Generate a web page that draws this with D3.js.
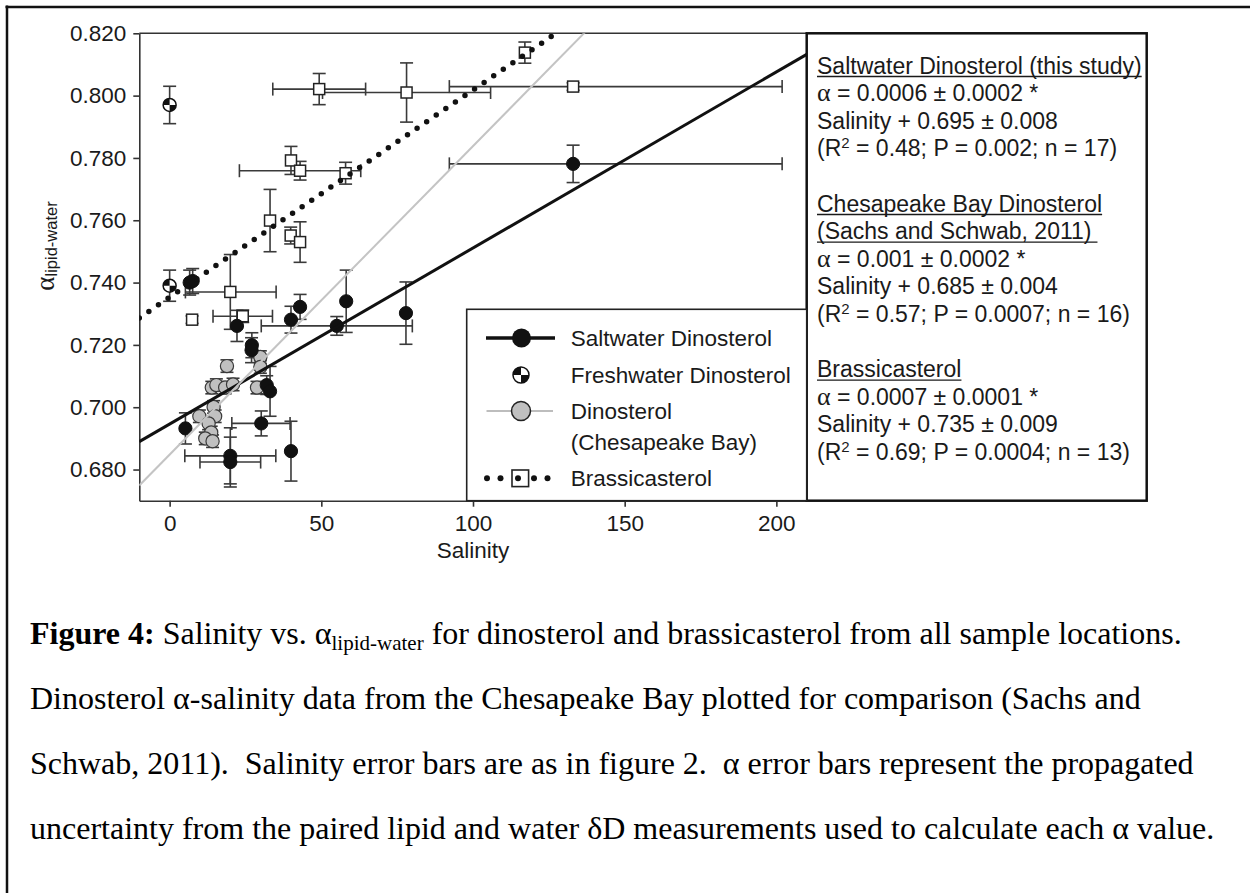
<!DOCTYPE html>
<html>
<head>
<meta charset="utf-8">
<script src="https://cdn.jsdelivr.net/npm/d3@7"></script>
<style>
  body { margin: 0; background: #fff; }
  svg { display: block; }
  text { fill: #1a1a1a; }
  .sans { font-family: "Liberation Sans", Arial, sans-serif; }
  .serif { font-family: "Liberation Serif", "Times New Roman", serif; }
</style>
</head>
<body>
<svg id="fig" width="1250" height="893" class="sans"></svg>
<script>
// ---- data: [salinity, alpha, alphaErr, salinityLow, salinityHigh] ----
const saltwater = [
  [5.2, 0.6932, 0.005, null, null],
  [20.0, 0.6844, 0.009, 5.0, 35.0],
  [20.0, 0.6824, 0.008, 10.0, 30.0],
  [30.2, 0.6948, 0.004, 20.5, 39.7],
  [40.0, 0.6859, 0.0096, null, null],
  [32.0, 0.7071, 0.003, null, null],
  [33.1, 0.7051, 0.008, null, null],
  [27.1, 0.7199, 0.004, null, null],
  [27.0, 0.7183, 0.004, null, null],
  [22.2, 0.7261, 0.005, null, null],
  [40.0, 0.7281, 0.0043, null, null],
  [43.0, 0.7322, 0.004, null, null],
  [55.1, 0.7261, 0.003, 30.2, 80.0],
  [58.2, 0.7340, 0.010, null, null],
  [77.9, 0.7302, 0.010, null, null],
  [6.6, 0.7400, 0.004, null, null],
  [7.6, 0.7405, 0.004, null, null],
  [133.0, 0.7781, 0.006, 92.2, 201.9]
];
const freshwater = [
  [0.0, 0.797, 0.006, null, null],
  [0.0, 0.739, 0.005, null, null]
];
const chesapeake = [
  [18.9, 0.7132, 0.002, null, null],
  [29.9, 0.7161, 0.002, null, null],
  [29.9, 0.7129, 0.002, null, null],
  [13.9, 0.7063, 0.002, null, null],
  [15.4, 0.7071, 0.002, null, null],
  [18.3, 0.7063, 0.002, null, null],
  [20.9, 0.7073, 0.002, null, null],
  [28.8, 0.7063, 0.002, null, null],
  [14.5, 0.7001, 0.002, null, null],
  [9.8, 0.6971, 0.002, null, null],
  [15.0, 0.6971, 0.002, null, null],
  [12.85, 0.6948, 0.002, null, null],
  [13.7, 0.6919, 0.002, null, null],
  [11.75, 0.6900, 0.002, null, null],
  [14.15, 0.6891, 0.002, null, null]
];
const brassicasterol = [
  [49.3, 0.8021, 0.005, 34.0, 64.6],
  [78.1, 0.8010, 0.0095, 50.4, 105.8],
  [40.0, 0.7792, 0.0045, null, null],
  [43.0, 0.7759, 0.003, 23.0, 63.0],
  [58.0, 0.7751, 0.0035, null, null],
  [33.1, 0.7599, 0.010, null, null],
  [39.9, 0.7551, 0.0027, null, null],
  [43.0, 0.7530, 0.0065, null, null],
  [20.0, 0.7370, 0.012, 5.2, 35.1],
  [7.4, 0.7281, 0.0012, null, null],
  [24.1, 0.7292, 0.002, 14.3, 33.9],
  [117.1, 0.8138, 0.0034, null, null],
  [133.0, 0.8029, 0.0012, 92.2, 201.9]
];

// ---- regression fits: saltwater, Chesapeake Bay, brassicasterol ----
const fitSlope = [0.000565, 0.00099, 0.000665];
const fitIntercept = [0.6946, 0.6848, 0.7353];
const fitSlopeDigits = [4, 3, 4];
const fitSlopeErr = ["0.0002", "0.0002", "0.0001"];
const fitInterceptErr = ["0.008", "0.004", "0.009"];
const fitR2 = ["0.48", "0.57", "0.69"];
const fitP = ["0.002", "0.0007", "0.0004"];
const fitN = ["17", "16", "13"];
const fitTitles = [
  ["Saltwater Dinosterol (this study)"],
  ["Chesapeake Bay Dinosterol", "(Sachs and Schwab, 2011)"],
  ["Brassicasterol"]
];

const xTicks = [0, 50, 100, 150, 200];
const yTicks = [0.680, 0.700, 0.720, 0.740, 0.760, 0.780, 0.800, 0.820];
const legendLabels = [["Saltwater Dinosterol"], ["Freshwater Dinosterol"], ["Dinosterol", "(Chesapeake Bay)"], ["Brassicasterol"]];

const captionLines = [
  [{t: "Figure 4:", b: true}, {t: " Salinity vs. "}, {t: "α"}, {t: "lipid-water", sub: true}, {t: " for dinosterol and brassicasterol from all sample locations."}],
  [{t: "Dinosterol α-salinity data from the Chesapeake Bay plotted for comparison (Sachs and"}],
  [{t: "Schwab, 2011).  Salinity error bars are as in figure 2.  α error bars represent the propagated"}],
  [{t: "uncertainty from the paired lipid and water δD measurements used to calculate each α value."}]
];

// ---- layout ----
const svg = d3.select("#fig");
const P = {left: 139.3, right: 806.7, top: 33.3, bottom: 500.7};
const x = d3.scaleLinear().domain([-10, 210]).range([P.left, P.right]);
const y = d3.scaleLinear().domain([0.670, 0.820]).range([P.bottom, P.top]);
const ink = "#1a1a1a";
const serif = '"Liberation Serif", "Times New Roman", serif';

// page frame
svg.append("line").attr("x1", 5.5).attr("x2", 1250).attr("y1", 7).attr("y2", 7)
  .attr("stroke", "#111").attr("stroke-width", 2.5);
svg.append("line").attr("x1", 7).attr("x2", 7).attr("y1", 5.5).attr("y2", 893)
  .attr("stroke", "#111").attr("stroke-width", 2.5);

svg.append("clipPath").attr("id", "plotClip").append("rect")
  .attr("x", P.left).attr("y", P.top).attr("width", P.right - P.left).attr("height", P.bottom - P.top);

// axes
const xAxis = svg.append("g").attr("transform", `translate(0,${P.bottom})`)
  .call(d3.axisBottom(x).tickValues(xTicks).tickSize(6).tickSizeOuter(0).tickPadding(8).tickFormat(d3.format("d")));
const yAxis = svg.append("g").attr("transform", `translate(${P.left},0)`)
  .call(d3.axisLeft(y).tickValues(yTicks).tickSize(6).tickSizeOuter(0).tickPadding(7).tickFormat(d3.format(".3f")));
[xAxis, yAxis].forEach(a => {
  a.attr("font-family", null).attr("font-size", null);
  a.select(".domain").attr("stroke", "#333").attr("stroke-width", 1.6);
  a.selectAll(".tick line").attr("stroke", "#333").attr("stroke-width", 1.6);
  a.selectAll(".tick text").attr("font-size", 22.5).attr("fill", ink);
});
// top frame line of the plot
svg.append("line").attr("x1", P.left).attr("x2", P.right).attr("y1", P.top).attr("y2", P.top)
  .attr("stroke", "#333").attr("stroke-width", 1.6);

// axis titles
svg.append("text").attr("x", (P.left + P.right) / 2).attr("y", 558)
  .attr("text-anchor", "middle").attr("font-size", 22.5).text("Salinity");
const yt = svg.append("text").attr("transform", "translate(54,246) rotate(-90)")
  .attr("text-anchor", "middle").attr("font-size", 27);
yt.append("tspan").attr("font-family", serif).text("α");
yt.append("tspan").attr("font-size", 16.5).attr("dy", 3).text("lipid-water");

// error bars
const ebColor = "#3a3a3a", cap = 6.5;
function errorBars(rows) {
  const g = svg.append("g").attr("stroke", ebColor).attr("stroke-width", 1.6).attr("fill", "none");
  const vert = rows.filter(r => r[2]);
  g.selectAll(".v").data(vert).join("line")
    .attr("x1", d => x(d[0])).attr("x2", d => x(d[0]))
    .attr("y1", d => y(d[1] - d[2])).attr("y2", d => y(d[1] + d[2]));
  g.selectAll(".vt").data(vert.flatMap(d => [[d[0], d[1] - d[2]], [d[0], d[1] + d[2]]])).join("line")
    .attr("x1", d => x(d[0]) - cap).attr("x2", d => x(d[0]) + cap)
    .attr("y1", d => y(d[1])).attr("y2", d => y(d[1]));
  const hor = rows.filter(r => r[3] != null);
  g.selectAll(".h").data(hor).join("line")
    .attr("x1", d => x(d[3])).attr("x2", d => x(d[4]))
    .attr("y1", d => y(d[1])).attr("y2", d => y(d[1]));
  g.selectAll(".ht").data(hor.flatMap(d => [[d[3], d[1]], [d[4], d[1]]])).join("line")
    .attr("x1", d => x(d[0])).attr("x2", d => x(d[0]))
    .attr("y1", d => y(d[1]) - cap).attr("y2", d => y(d[1]) + cap);
}
[chesapeake, brassicasterol, freshwater, saltwater].forEach(errorBars);

// quartered marker for freshwater samples
function freshSymbol(g, cx, cy, r) {
  g.append("circle").attr("cx", cx).attr("cy", cy).attr("r", r)
    .attr("fill", "#fff").attr("stroke", "#111").attr("stroke-width", 1.5);
  const arc = d3.arc().innerRadius(0).outerRadius(r);
  [[-Math.PI / 2, 0], [Math.PI / 2, Math.PI]].forEach(([a0, a1]) => {
    g.append("path").attr("transform", `translate(${cx},${cy})`)
      .attr("d", arc({startAngle: a0, endAngle: a1})).attr("fill", "#111");
  });
}

// points
const pts = svg.append("g");
pts.selectAll(".ches").data(chesapeake).join("circle")
  .attr("cx", d => x(d[0])).attr("cy", d => y(d[1])).attr("r", 6.6)
  .attr("fill", "#c0c0c0").attr("stroke", "#3a3a3a").attr("stroke-width", 1.2);
pts.selectAll(".bras").data(brassicasterol).join("rect")
  .attr("x", d => x(d[0]) - 5.5).attr("y", d => y(d[1]) - 5.5).attr("width", 11).attr("height", 11)
  .attr("fill", "#fff").attr("stroke", "#222").attr("stroke-width", 1.5);
pts.selectAll(".salt").data(saltwater).join("circle")
  .attr("cx", d => x(d[0])).attr("cy", d => y(d[1])).attr("r", 6.6)
  .attr("fill", "#111").attr("stroke", "#111").attr("stroke-width", 1);
freshwater.forEach(d => freshSymbol(pts, x(d[0]), y(d[1]), 6.5));

// regression lines
const fitStyles = [
  {stroke: "#111", width: 3, dash: null, cap: "butt"},
  {stroke: "#c4c4c4", width: 2, dash: null, cap: "butt"},
  {stroke: "#111", width: 5.5, dash: "0 11.6", cap: "round"}
];
const lineGen = d3.line().x(d => x(d[0])).y(d => y(d[1]));
const fits = svg.append("g").attr("clip-path", "url(#plotClip)");
fitSlope.forEach((m, i) => {
  const seg = x.domain().map(s => [s, fitIntercept[i] + m * s]);
  fits.append("path").attr("d", lineGen(seg)).attr("fill", "none")
    .attr("stroke", fitStyles[i].stroke).attr("stroke-width", fitStyles[i].width)
    .attr("stroke-dasharray", fitStyles[i].dash).attr("stroke-linecap", fitStyles[i].cap);
});

// regression text box
const tb = {x: 806.7, y: P.top, w: 340, h: P.bottom - P.top};
svg.append("rect").attr("x", tb.x).attr("y", tb.y).attr("width", tb.w).attr("height", tb.h)
  .attr("fill", "#fff").attr("stroke", "#111").attr("stroke-width", 2.5);
const tbText = svg.append("g").attr("font-size", 23);
const lineStep = 27.6;
let ln = 0;
fitTitles.forEach((titles, i) => {
  titles.forEach(t => {
    const by = 73.5 + ln * lineStep;
    const el = tbText.append("text").attr("x", 817).attr("y", by).text(t);
    const w = el.node().getComputedTextLength() + (i === 1 && t.startsWith("(") ? 6 : 0);
    tbText.append("line").attr("x1", 817).attr("x2", 817 + w).attr("y1", by + 3).attr("y2", by + 3)
      .attr("stroke", ink).attr("stroke-width", 1.3);
    ln++;
  });
  const l1 = tbText.append("text").attr("x", 817).attr("y", 73.5 + ln * lineStep);
  l1.append("tspan").attr("font-family", serif).attr("font-size", 26).text("α");
  l1.append("tspan").text(` = ${d3.format("." + fitSlopeDigits[i] + "f")(fitSlope[i])} ± ${fitSlopeErr[i]} *`);
  ln++;
  tbText.append("text").attr("x", 817).attr("y", 73.5 + ln * lineStep)
    .text(`Salinity + ${d3.format(".3f")(fitIntercept[i])} ± ${fitInterceptErr[i]}`);
  ln++;
  const l3 = tbText.append("text").attr("x", 817).attr("y", 73.5 + ln * lineStep);
  l3.append("tspan").text("(R");
  l3.append("tspan").attr("font-size", 15).attr("dy", -8).text("2");
  l3.append("tspan").attr("dy", 8).text(` = ${fitR2[i]}; P = ${fitP[i]}; n = ${fitN[i]})`);
  ln += 2;
});

// legend
const lg = svg.append("g");
lg.append("rect").attr("x", 466.7).attr("y", 309.3).attr("width", 340).attr("height", P.bottom - 309.3)
  .attr("fill", "#fff").attr("stroke", "#222").attr("stroke-width", 1.6);
const lgRowsY = [338, 375, 411, 478.3];
lg.append("line").attr("x1", 486).attr("x2", 555).attr("y1", lgRowsY[0]).attr("y2", lgRowsY[0])
  .attr("stroke", "#111").attr("stroke-width", 3.5);
lg.append("circle").attr("cx", 521.5).attr("cy", lgRowsY[0]).attr("r", 9.5).attr("fill", "#111");
freshSymbol(lg, 521, lgRowsY[1], 8);
lg.append("line").attr("x1", 486.5).attr("x2", 553).attr("y1", lgRowsY[2]).attr("y2", lgRowsY[2])
  .attr("stroke", "#bdbdbd").attr("stroke-width", 2);
lg.append("circle").attr("cx", 521).attr("cy", lgRowsY[2]).attr("r", 9.5)
  .attr("fill", "#c0c0c0").attr("stroke", "#222").attr("stroke-width", 1.5);
lg.append("rect").attr("x", 512).attr("y", lgRowsY[3] - 8.3).attr("width", 16.6).attr("height", 16.6)
  .attr("fill", "#fff").attr("stroke", "#222").attr("stroke-width", 1.6);
[487, 500.5, 518, 534, 547.5].forEach(cx => lg.append("circle").attr("cx", cx).attr("cy", lgRowsY[3]).attr("r", 3).attr("fill", "#111"));
const lgTextY = [[346.3], [383], [419, 449.7], [486.3]];
legendLabels.forEach((rows, i) => rows.forEach((t, j) => {
  lg.append("text").attr("x", 570.7).attr("y", lgTextY[i][j]).attr("font-size", 22.5).text(t);
}));

// caption
const cap0 = 644, capStep = 65;
captionLines.forEach((parts, i) => {
  const t = svg.append("text").attr("class", "serif").attr("x", 30).attr("y", cap0 + i * capStep)
    .attr("font-size", 32).style("fill", "#000").style("white-space", "pre");
  let shifted = false;
  parts.forEach(p => {
    const s = t.append("tspan").text(p.t);
    if (p.b) s.attr("font-weight", "bold");
    if (p.sub) { s.attr("font-size", 21).attr("dy", 6); shifted = true; }
    else if (shifted) { s.attr("dy", -6); shifted = false; }
  });
});
</script>
</body>
</html>
